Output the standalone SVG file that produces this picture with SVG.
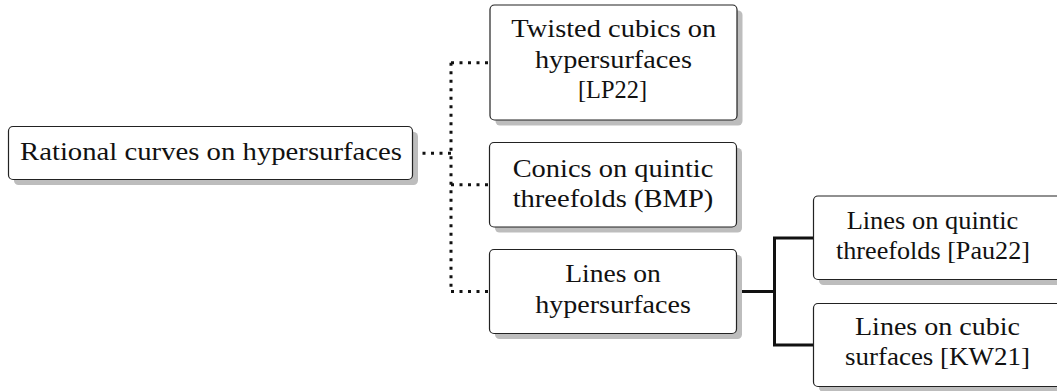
<svg xmlns="http://www.w3.org/2000/svg" width="1057" height="391" viewBox="0 0 1057 391">
  <style>
    .box { fill: #ffffff; stroke: #222222; stroke-width: 1.2; }
    .shadow { fill: #bdbdbd; stroke: none; }
    .dotted { fill: none; stroke: #111111; stroke-width: 3; stroke-dasharray: 3 5.5; }
    .solid { fill: none; stroke: #111111; stroke-width: 3; stroke-linejoin: miter; }
    text { font-family: "Liberation Serif", "Times New Roman", serif; font-size: 26px; fill: #111111; text-anchor: middle; }
  </style>
  <rect width="1057" height="391" fill="#ffffff"/>

  <!-- connectors -->
  <g id="connectors">
    <path class="dotted" d="M414 153.3 H451"/>
    <path class="dotted" d="M451 62.7 V291.5"/>
    <path class="dotted" d="M451 62.7 H489"/>
    <path class="dotted" d="M451 184.8 H488.5"/>
    <path class="dotted" d="M451 291.5 H488.5"/>
    <path class="solid" d="M737 291.5 H774.5"/>
    <path class="solid" d="M813 238 H774.5 V345 H813"/>
  </g>

  <g id="node-rational">
    <rect class="shadow" x="14" y="132" width="404" height="53" rx="4.5"/>
    <rect class="box" x="8.5" y="126.5" width="404" height="53" rx="4.5"/>
    <text x="211" y="160" textLength="382" lengthAdjust="spacingAndGlyphs">Rational curves on hypersurfaces</text>
  </g>

  <g id="node-twisted">
    <rect class="shadow" x="495.5" y="10.5" width="247" height="115" rx="4.5"/>
    <rect class="box" x="490" y="5" width="247" height="115" rx="4.5"/>
    <text x="613.8" y="36.5" textLength="205" lengthAdjust="spacingAndGlyphs">Twisted cubics on</text>
    <text x="613.4" y="68" textLength="157" lengthAdjust="spacingAndGlyphs">hypersurfaces</text>
    <text x="612.5" y="98" textLength="69" lengthAdjust="spacingAndGlyphs">[LP22]</text>
  </g>

  <g id="node-conics">
    <rect class="shadow" x="495" y="148" width="247" height="84.5" rx="4.5"/>
    <rect class="box" x="489.5" y="142.5" width="247" height="84.5" rx="4.5"/>
    <text x="613" y="177" textLength="200.7" lengthAdjust="spacingAndGlyphs">Conics on quintic</text>
    <text x="613" y="207" textLength="200.7" lengthAdjust="spacingAndGlyphs">threefolds (BMP)</text>
  </g>

  <g id="node-lines">
    <rect class="shadow" x="495" y="255" width="247" height="84" rx="4.5"/>
    <rect class="box" x="489.5" y="249.5" width="247" height="84" rx="4.5"/>
    <text x="613" y="282" textLength="95.7" lengthAdjust="spacingAndGlyphs">Lines on</text>
    <text x="613" y="313" textLength="155.7" lengthAdjust="spacingAndGlyphs">hypersurfaces</text>
  </g>

  <g id="node-quintic">
    <rect class="shadow" x="819" y="201.5" width="250" height="83.5" rx="4.5"/>
    <rect class="box" x="813.5" y="196" width="250" height="83.5" rx="4.5"/>
    <text x="932.5" y="228.5" textLength="171.7" lengthAdjust="spacingAndGlyphs">Lines on quintic</text>
    <text x="933" y="258.5" textLength="194" lengthAdjust="spacingAndGlyphs">threefolds [Pau22]</text>
  </g>

  <g id="node-cubic">
    <rect class="shadow" x="819" y="309" width="250" height="83" rx="4.5"/>
    <rect class="box" x="813.5" y="303.5" width="250" height="83" rx="4.5"/>
    <text x="937.5" y="334.5" textLength="165" lengthAdjust="spacingAndGlyphs">Lines on cubic</text>
    <text x="937.5" y="365" textLength="185" lengthAdjust="spacingAndGlyphs">surfaces [KW21]</text>
  </g>
</svg>
